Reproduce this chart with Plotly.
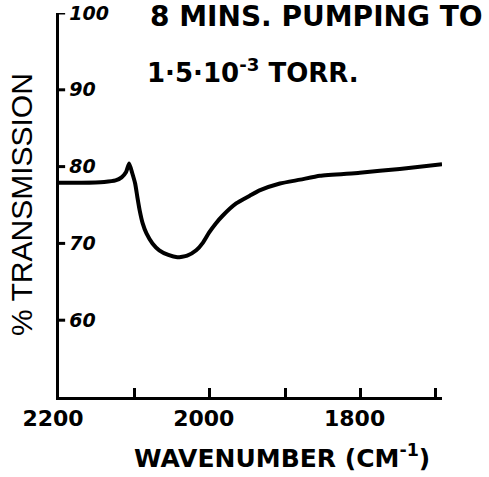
import plotly.graph_objects as go

# Infrared transmission trace
wavenumber = [2200, 2170, 2140, 2125, 2117, 2111, 2107, 2103, 2099, 2096, 2093,
              2089, 2084, 2076, 2067, 2055, 2043, 2030, 2018, 2009, 2001, 1992,
              1983, 1965, 1947, 1934, 1907, 1880, 1854, 1801, 1748, 1692]
transmission = [77.9, 77.9, 78.0, 78.2, 78.6, 79.3, 80.4, 79.2, 77.8, 76.0, 74.3,
                72.6, 71.3, 70.0, 69.1, 68.5, 68.2, 68.4, 69.1, 70.1, 71.4, 72.6,
                73.6, 75.2, 76.2, 76.9, 77.8, 78.3, 78.8, 79.2, 79.7, 80.3]

x_tick_vals = [2200, 2100, 2000, 1900, 1800, 1700]
x_tick_text = ["2200", "", "2000", "", "1800", ""]
y_tick_vals = [60, 70, 80, 90, 100]
y_tick_text = ["60", "70", "80", "90", "100"]

W, H = 489, 477
ML, MR, MT, MB = 59, 47, 13, 80


def px(x):
    return (x - ML) / (W - ML - MR)


def py(y):
    return 1 - (y - MT) / (H - MT - MB)


fig = go.Figure()
fig.add_trace(go.Scatter(
    x=wavenumber, y=transmission, mode="lines",
    line=dict(color="black", width=4, shape="spline", smoothing=0.5),
    hoverinfo="skip", showlegend=False,
))

fig.update_layout(
    width=W, height=H, autosize=False,
    margin=dict(l=ML, r=MR, t=MT, b=MB),
    paper_bgcolor="white", plot_bgcolor="white",
    xaxis=dict(
        range=[2200, 1692], showgrid=False, zeroline=False, automargin=False,
        showline=True, linecolor="black", linewidth=3,
        ticks="inside", ticklen=9, tickwidth=3, tickcolor="black",
        tickvals=x_tick_vals, ticktext=x_tick_text,
        tickfont=dict(family="DejaVu Sans", size=22, color="black", weight="bold"),
        ticklabelshift=6, ticklabeloverflow="allow",
    ),
    yaxis=dict(
        range=[50, 100], showgrid=False, zeroline=False, automargin=False,
        showline=True, linecolor="black", linewidth=3,
        ticks="", tickvals=y_tick_vals, ticktext=y_tick_text,
        ticklabelposition="inside", ticklabeloverflow="allow",
        ticklabelstandoff=11, ticklabelshift=0,
        tickfont=dict(family="DejaVu Sans", size=19, color="black",
                      weight="bold", style="italic"),
    ),
    font=dict(family="DejaVu Sans", color="black"),
)

# short inward tick marks on the transmission axis
for v in y_tick_vals:
    fig.add_shape(type="line", xref="x domain", yref="y",
                  x0=0, x1=0.016, y0=v, y1=v,
                  line=dict(color="black", width=3))

annotations = [
    dict(text="8 MINS. PUMPING TO", x=px(148), y=py(17), xanchor="left", yanchor="middle",
         font=dict(family="DejaVu Sans", size=28, weight="bold", color="black")),
    dict(text="1·5·10<sup>-3</sup> TORR.", x=px(145), y=py(71), xanchor="left", yanchor="middle",
         font=dict(family="DejaVu Sans", size=26, weight="bold", color="black")),
    dict(text="WAVENUMBER (CM<sup>-1</sup>)", x=px(282), y=py(456), xanchor="center", yanchor="middle",
         font=dict(family="DejaVu Sans", size=25, weight="bold", color="black")),
    dict(text="% TRANSMISSION", x=px(21), y=py(205), xanchor="center", yanchor="middle",
         textangle=-90,
         font=dict(family="Liberation Sans", size=30, color="black")),
]
for a in annotations:
    a.update(xref="paper", yref="paper", showarrow=False)
fig.update_layout(annotations=annotations)

fig.write_html("out.html")
